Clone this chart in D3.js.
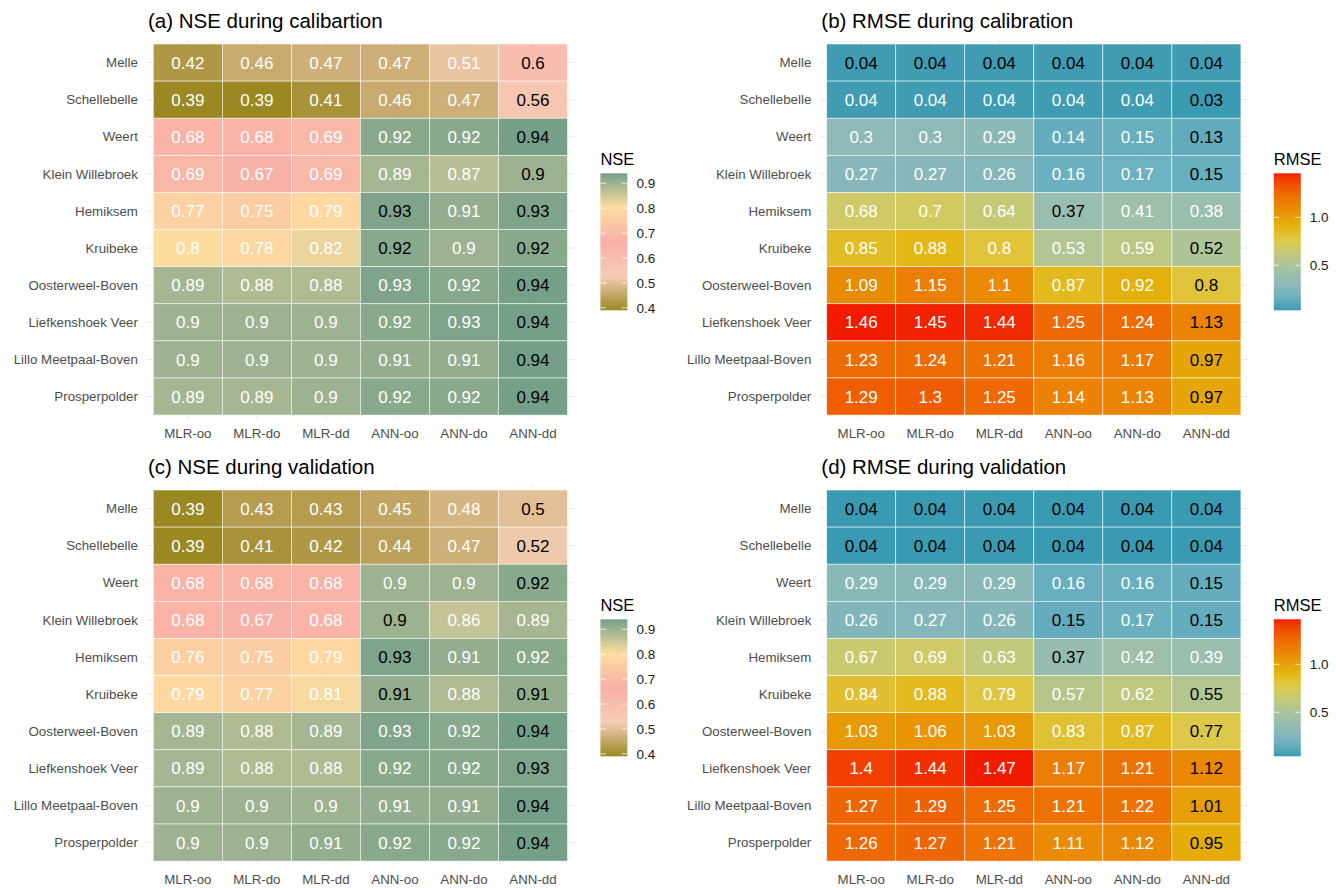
<!DOCTYPE html>
<html lang="en">
<head>
    <meta charset="UTF-8">
    <title>NSE and RMSE heatmaps</title>
    <script src="https://d3js.org/d3.v7.min.js"></script>
    <style>
        body {
            margin: 0;
            padding: 0;
            background: #fff;
            font-family: "Liberation Sans", Arial, sans-serif;
        }
    </style>
</head>
<body>
    <svg id="chart" width="1336" height="888"></svg>

    <script>
        // Stations (top to bottom) and model setups (left to right)
        const stations = ["Melle", "Schellebelle", "Weert", "Klein Willebroek", "Hemiksem",
            "Kruibeke", "Oosterweel-Boven", "Liefkenshoek Veer", "Lillo Meetpaal-Boven", "Prosperpolder"];
        const models = ["MLR-oo", "MLR-do", "MLR-dd", "ANN-oo", "ANN-do", "ANN-dd"];

        // one row per station, one value per model
        const nseCal = [
            [0.42, 0.46, 0.47, 0.47, 0.51, 0.6],
            [0.39, 0.39, 0.41, 0.46, 0.47, 0.56],
            [0.68, 0.68, 0.69, 0.92, 0.92, 0.94],
            [0.69, 0.67, 0.69, 0.89, 0.87, 0.9],
            [0.77, 0.75, 0.79, 0.93, 0.91, 0.93],
            [0.8, 0.78, 0.82, 0.92, 0.9, 0.92],
            [0.89, 0.88, 0.88, 0.93, 0.92, 0.94],
            [0.9, 0.9, 0.9, 0.92, 0.93, 0.94],
            [0.9, 0.9, 0.9, 0.91, 0.91, 0.94],
            [0.89, 0.89, 0.9, 0.92, 0.92, 0.94]
        ];
        const rmseCal = [
            [0.04, 0.04, 0.04, 0.04, 0.04, 0.04],
            [0.04, 0.04, 0.04, 0.04, 0.04, 0.03],
            [0.3, 0.3, 0.29, 0.14, 0.15, 0.13],
            [0.27, 0.27, 0.26, 0.16, 0.17, 0.15],
            [0.68, 0.7, 0.64, 0.37, 0.41, 0.38],
            [0.85, 0.88, 0.8, 0.53, 0.59, 0.52],
            [1.09, 1.15, 1.1, 0.87, 0.92, 0.8],
            [1.46, 1.45, 1.44, 1.25, 1.24, 1.13],
            [1.23, 1.24, 1.21, 1.16, 1.17, 0.97],
            [1.29, 1.3, 1.25, 1.14, 1.13, 0.97]
        ];
        const nseVal = [
            [0.39, 0.43, 0.43, 0.45, 0.48, 0.5],
            [0.39, 0.41, 0.42, 0.44, 0.47, 0.52],
            [0.68, 0.68, 0.68, 0.9, 0.9, 0.92],
            [0.68, 0.67, 0.68, 0.9, 0.86, 0.89],
            [0.76, 0.75, 0.79, 0.93, 0.91, 0.92],
            [0.79, 0.77, 0.81, 0.91, 0.88, 0.91],
            [0.89, 0.88, 0.89, 0.93, 0.92, 0.94],
            [0.89, 0.88, 0.88, 0.92, 0.92, 0.93],
            [0.9, 0.9, 0.9, 0.91, 0.91, 0.94],
            [0.9, 0.9, 0.91, 0.92, 0.92, 0.94]
        ];
        const rmseVal = [
            [0.04, 0.04, 0.04, 0.04, 0.04, 0.04],
            [0.04, 0.04, 0.04, 0.04, 0.04, 0.04],
            [0.29, 0.29, 0.29, 0.16, 0.16, 0.15],
            [0.26, 0.27, 0.26, 0.15, 0.17, 0.15],
            [0.67, 0.69, 0.63, 0.37, 0.42, 0.39],
            [0.84, 0.88, 0.79, 0.57, 0.62, 0.55],
            [1.03, 1.06, 1.03, 0.83, 0.87, 0.77],
            [1.4, 1.44, 1.47, 1.17, 1.21, 1.12],
            [1.27, 1.29, 1.25, 1.21, 1.22, 1.01],
            [1.26, 1.27, 1.21, 1.11, 1.12, 0.95]
        ];

        // legend ticks
        const nseTicks = [0.4, 0.5, 0.6, 0.7, 0.8, 0.9];
        const rmseTicks = [0.5, 1.0];

        // palettes (wesanderson Royal2 / Zissou1Continuous)
        const nseColors = ["#9A8822", "#F5CDB4", "#F8AFA8", "#FDDDA0", "#74A089"];
        const rmseColors = ["#3A9AB2", "#6FB2C1", "#91BAB6", "#A5C2A3", "#BDC881", "#DCCB4E",
            "#E3B710", "#E79805", "#EC7A05", "#EF5703", "#F11B00"];

        const svg = d3.select("#chart");
        const panelW = 428;
        const panelH = 378.5;

        function drawPanel(cfg) {
            const g = svg.append("g").attr("transform", `translate(${cfg.x}, ${cfg.y})`);

            // discrete scales with ggplot-like expansion (0.6 of a step on each side)
            const x = d3.scaleBand().domain(models).range([0, panelW]).paddingOuter(0.1).paddingInner(0);
            const y = d3.scaleBand().domain(stations).range([0, panelH]).paddingOuter(0.1).paddingInner(0);

            // flatten data
            const cells = [];
            cfg.values.forEach(function(row, i) {
                const best = cfg.higherBetter ? d3.max(row) : d3.min(row);
                row.forEach(function(v, j) {
                    cells.push({ station: stations[i], model: models[j], value: v, best: v === best });
                });
            });

            const ext = d3.extent(cells, d => d.value);
            const color = d3.scaleLinear()
                .domain(cfg.colors.map((c, k) => ext[0] + (ext[1] - ext[0]) * k / (cfg.colors.length - 1)))
                .range(cfg.colors)
                .interpolate(d3.interpolateLab);

            // grid lines
            g.selectAll(".hgrid").data(stations).enter().append("line")
                .attr("x1", 0).attr("x2", panelW)
                .attr("y1", d => y(d) + y.bandwidth() / 2)
                .attr("y2", d => y(d) + y.bandwidth() / 2)
                .attr("stroke", "#ebebeb").attr("stroke-width", 1.1);
            g.selectAll(".vgrid").data(models).enter().append("line")
                .attr("y1", 0).attr("y2", panelH)
                .attr("x1", d => x(d) + x.bandwidth() / 2)
                .attr("x2", d => x(d) + x.bandwidth() / 2)
                .attr("stroke", "#ebebeb").attr("stroke-width", 1.1);

            // tiles
            g.selectAll("rect.tile").data(cells).enter().append("rect")
                .attr("class", "tile")
                .attr("x", d => x(d.model))
                .attr("y", d => y(d.station))
                .attr("width", x.bandwidth())
                .attr("height", y.bandwidth())
                .attr("fill", d => color(d.value))
                .attr("stroke", "rgba(255,255,255,0.75)")
                .attr("stroke-width", 0.7);

            // values
            g.selectAll("text.val").data(cells).enter().append("text")
                .attr("class", "val")
                .attr("x", d => x(d.model) + x.bandwidth() / 2)
                .attr("y", d => y(d.station) + y.bandwidth() / 2)
                .attr("dy", "0.36em")
                .attr("text-anchor", "middle")
                .attr("font-size", "17px")
                .attr("fill", d => d.best ? "#000" : "#fff")
                .text(d => d.value);

            // axis labels
            g.selectAll("text.ylab").data(stations).enter().append("text")
                .attr("x", -8.5)
                .attr("y", d => y(d) + y.bandwidth() / 2)
                .attr("dy", "0.35em")
                .attr("text-anchor", "end")
                .attr("font-size", "13.3px")
                .attr("fill", "#4d4d4d")
                .text(d => d);
            g.selectAll("text.xlab").data(models).enter().append("text")
                .attr("x", d => x(d) + x.bandwidth() / 2)
                .attr("y", panelH + 19.5)
                .attr("text-anchor", "middle")
                .attr("font-size", "13.3px")
                .attr("fill", "#4d4d4d")
                .text(d => d);

            // title
            g.append("text")
                .attr("x", 1.5)
                .attr("y", -12)
                .attr("font-size", "20.5px")
                .attr("fill", "#000")
                .text(cfg.title);

            // colour bar legend
            const barX = panelW + 26;
            const barY = 133;
            const barW = 27;
            const barH = 137;
            const ly = d3.scaleLinear().domain(ext).range([barY + barH, barY]);

            const gradId = "grad-" + cfg.id;
            const grad = svg.append("defs").append("linearGradient")
                .attr("id", gradId)
                .attr("x1", 0).attr("x2", 0).attr("y1", 1).attr("y2", 0);
            d3.range(0, 1.0001, 0.02).forEach(function(t) {
                grad.append("stop")
                    .attr("offset", t)
                    .attr("stop-color", color(ext[0] + t * (ext[1] - ext[0])));
            });

            g.append("text")
                .attr("x", barX)
                .attr("y", barY - 8.5)
                .attr("font-size", "16.5px")
                .attr("fill", "#000")
                .text(cfg.legendTitle);

            g.append("rect")
                .attr("x", barX).attr("y", barY)
                .attr("width", barW).attr("height", barH)
                .attr("fill", `url(#${gradId})`);

            cfg.ticks.forEach(function(t) {
                g.append("line")
                    .attr("x1", barX).attr("x2", barX + 5.5)
                    .attr("y1", ly(t)).attr("y2", ly(t))
                    .attr("stroke", "#fff").attr("stroke-width", 0.8);
                g.append("line")
                    .attr("x1", barX + barW - 5.5).attr("x2", barX + barW)
                    .attr("y1", ly(t)).attr("y2", ly(t))
                    .attr("stroke", "#fff").attr("stroke-width", 0.8);
                g.append("text")
                    .attr("x", barX + barW + 9)
                    .attr("y", ly(t))
                    .attr("dy", "0.36em")
                    .attr("font-size", "13.5px")
                    .attr("fill", "#1a1a1a")
                    .text(d3.format(".1f")(t));
            });
        }

        drawPanel({ id: "a", x: 146.4, y: 40.3, title: "(a) NSE during calibartion", values: nseCal,
            higherBetter: true, colors: nseColors, legendTitle: "NSE", ticks: nseTicks });
        drawPanel({ id: "b", x: 819.8, y: 40.3, title: "(b) RMSE during calibration", values: rmseCal,
            higherBetter: false, colors: rmseColors, legendTitle: "RMSE", ticks: rmseTicks });
        drawPanel({ id: "c", x: 146.4, y: 486.3, title: "(c) NSE during validation", values: nseVal,
            higherBetter: true, colors: nseColors, legendTitle: "NSE", ticks: nseTicks });
        drawPanel({ id: "d", x: 819.8, y: 486.3, title: "(d) RMSE during validation", values: rmseVal,
            higherBetter: false, colors: rmseColors, legendTitle: "RMSE", ticks: rmseTicks });
    </script>
</body>
</html>
